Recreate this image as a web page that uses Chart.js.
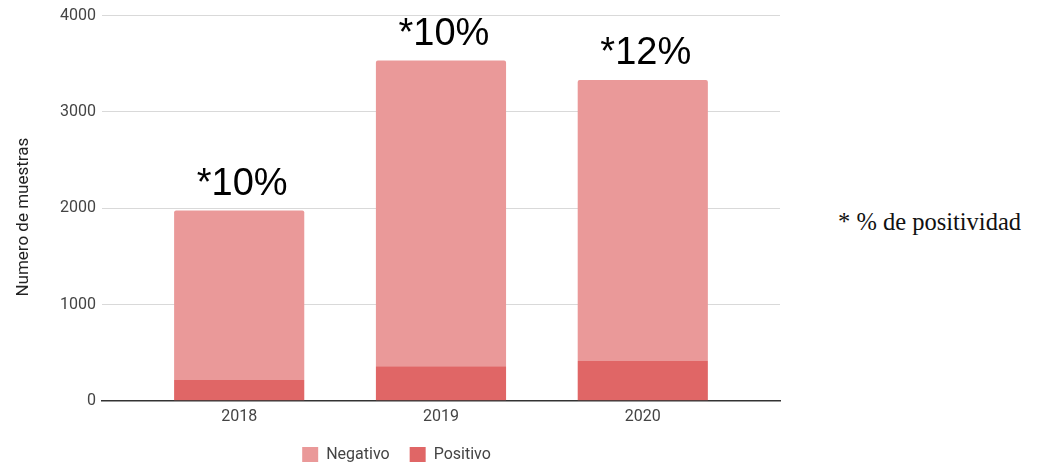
<!DOCTYPE html>
<html>
<head>
<meta charset="utf-8">
<script src="https://cdn.jsdelivr.net/npm/chart.js@4/dist/chart.umd.min.js"></script>
<style>
  html, body { margin: 0; padding: 0; background: #fff; }
  body { width: 1051px; height: 462px; position: relative; overflow: hidden; }
  #wrap { position: absolute; left: 0; top: 0; width: 792px; height: 473px; }
  #note { position: absolute; left: 838px; top: 208px; font-family: "Liberation Serif", "DejaVu Serif", serif; font-size: 24.5px; color: #111; white-space: nowrap; }
</style>
</head>
<body>
<div id="wrap"><canvas id="c"></canvas></div>
<div id="note">* % de positividad</div>
<script>
const years = [2018, 2019, 2020];
const negativo = [1760, 3175, 2918];
const positivo = [215, 358, 414];
const pctLabels = ['*10%', '*10%', '*12%'];
const yTicks = [0, 1000, 2000, 3000, 4000];
const yTitle = 'Numero de muestras';

const ctx = document.getElementById('c');

const annotatePlugin = {
  id: 'pctAnnot',
  afterDatasetsDraw(chart) {
    const meta = chart.getDatasetMeta(1);
    const c = chart.ctx;
    const area = chart.chartArea;
    c.save();
    c.font = '38px "Liberation Sans", Arial, sans-serif';
    c.fillStyle = '#000';
    c.textAlign = 'center';
    c.textBaseline = 'alphabetic';
    meta.data.forEach((el, i) => {
      c.fillText(pctLabels[i], el.x + 3, el.y - 16);
    });
    c.restore();
    // y axis title
    c.save();
    c.font = '17px Roboto, Arial, sans-serif';
    c.fillStyle = '#222';
    c.textAlign = 'center';
    c.textBaseline = 'middle';
    c.translate(area.left - 78, (area.top + area.bottom) / 2 + 9);
    c.rotate(-Math.PI / 2);
    c.fillText(yTitle, 0, 0);
    c.restore();
  }
};

new Chart(ctx, {
  type: 'bar',
  data: {
    datasets: [
      {
        label: 'Positivo',
        data: years.map((y, i) => ({ x: y, y: positivo[i] })),
        backgroundColor: '#e06666',
        borderWidth: 0,
        categoryPercentage: 1,
        barPercentage: 0.645
      },
      {
        label: 'Negativo',
        data: years.map((y, i) => ({ x: y, y: negativo[i] })),
        backgroundColor: '#ea9999',
        borderWidth: 0,
        borderRadius: { topLeft: 2, topRight: 2, bottomLeft: 0, bottomRight: 0 },
        borderSkipped: 'bottom',
        categoryPercentage: 1,
        barPercentage: 0.645
      }
    ]
  },
  options: {
    responsive: true,
    maintainAspectRatio: false,
    animation: false,
    layout: { padding: { left: 13, right: 12, top: 13, bottom: 0 } },
    plugins: {
      tooltip: { enabled: false },
      legend: {
        position: 'bottom',
        reverse: true,
        labels: {
          boxWidth: 16,
          boxHeight: 16,
          padding: 20,
          color: '#444',
          font: { family: 'Roboto, Arial, sans-serif', size: 16 }
        }
      }
    },
    scales: {
      x: {
        type: 'linear',
        stacked: true,
        min: 2017.32,
        max: 2020.68,
        offset: false,
        grid: { display: false, drawTicks: false },
        border: { display: true, color: '#333', width: 1.5 },
        afterFit: (scale) => { scale.height -= 7; },
        ticks: {
          stepSize: 1,
          includeBounds: false,
          color: '#444',
          padding: 7,
          font: { family: 'Roboto, Arial, sans-serif', size: 16 },
          callback: (v) => String(v)
        }
      },
      y: {
        stacked: true,
        min: 0,
        max: 4000,
        afterBuildTicks: (scale) => { scale.ticks = yTicks.map(v => ({ value: v })); },
        afterFit: (scale) => { scale.width += 41; },
        grid: { color: '#d9d9d9', lineWidth: 1, drawTicks: false },
        border: { display: false },
        ticks: {
          color: '#444',
          padding: 6,
          font: { family: 'Roboto, Arial, sans-serif', size: 16 },
          callback: (v) => String(v)
        },
        title: { display: false }
      }
    }
  },
  plugins: [annotatePlugin]
});
</script>
</body>
</html>
